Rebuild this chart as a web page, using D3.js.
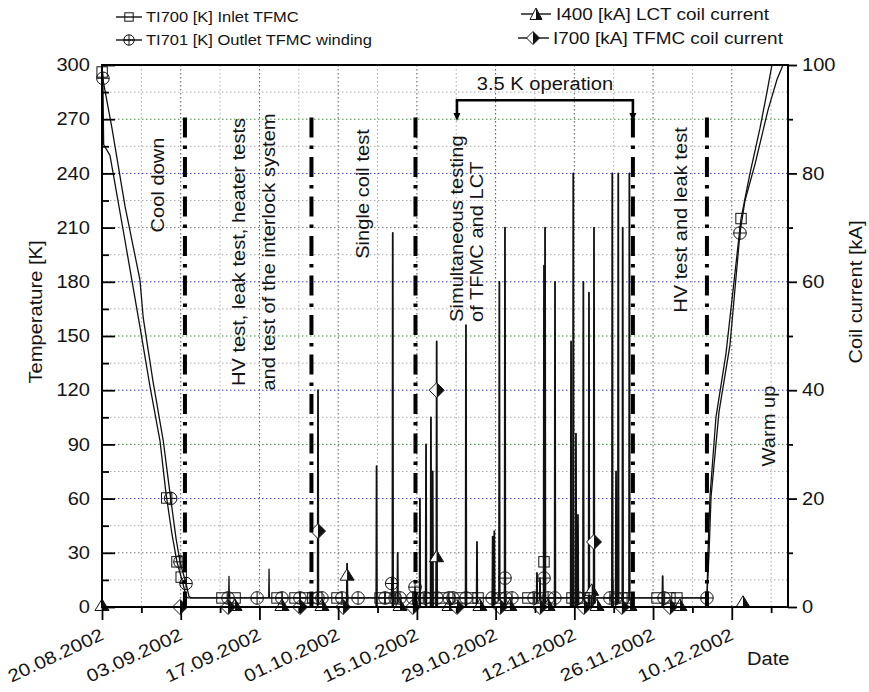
<!DOCTYPE html>
<html><head><meta charset="utf-8">
<script src="https://cdn.jsdelivr.net/npm/d3@7"></script>
<style>body{margin:0;background:#fff} svg{display:block}</style>
</head><body>
<svg id="chart" width="869" height="692"></svg>
<script>
// ---------------- DATA ----------------
const xTickLabels = ["20.08.2002","03.09.2002","17.09.2002","01.10.2002","15.10.2002","29.10.2002","12.11.2002","26.11.2002","10.12.2002"];
const xMinorTicks = ["27.08.2002","10.09.2002","24.09.2002","08.10.2002","22.10.2002","05.11.2002","19.11.2002","03.12.2002","17.12.2002"];
const xDomain = ["20.08.2002 00:00","20.12.2002 00:00"];
const tempTicks = [0,30,60,90,120,150,180,210,240,270,300];
const tempMinor = [15,45,75,105,135,165,195,225,255,285];
const currentTicks = [0,20,40,60,80,100];
const currentMinor = [10,30,50,70,90];

// TI700 inlet temperature [K] (cool down + warm up)
const ti700Dates = ["20.08.2002 00:00","20.08.2002 04:00","20.08.2002 07:00","21.08.2002 10:00","24.08.2002 02:00","26.08.2002 18:00","28.08.2002 13:00","30.08.2002 07:30","31.08.2002 09:00","01.09.2002 11:00","02.09.2002 08:00","03.09.2002 09:30","03.09.2002 22:30","04.09.2002 07:00","05.12.2002 14:00","05.12.2002 18:30","06.12.2002 03:00","07.12.2002 04:30","08.12.2002 23:00","10.12.2002 13:45","11.12.2002 15:30","13.12.2002 05:45","15.12.2002 00:30","16.12.2002 06:15","17.12.2002 03:30"];
const ti700Values = [297,290,256,250,203,155,122,92,63,40,25,13,6,5,5,30,61,105,140,185,215,240,265,285,300];
const ti700SpikeDates = ["11.09.2002 14:00","06.11.2002 14:30"];
const ti700SpikeValues = [17,25];

// TI701 outlet temperature [K]
const ti701Dates = ["20.08.2002 00:00","20.08.2002 05:30","21.08.2002 18:30","24.08.2002 02:00","26.08.2002 18:00","27.08.2002 08:00","29.08.2002 01:30","30.08.2002 21:30","01.09.2002 02:00","02.09.2002 04:00","02.09.2002 21:00","03.09.2002 22:30","04.09.2002 11:00","04.09.2002 19:00","05.12.2002 14:00","05.12.2002 23:00","06.12.2002 07:30","07.12.2002 17:30","09.12.2002 16:15","11.12.2002 11:00","12.12.2002 08:30","14.12.2002 03:00","16.12.2002 10:30","18.12.2002 01:00","19.12.2002 02:40"];
const ti701Values = [297,291,265,222,181,160,125,92,63,38,25,13,6,5,5,30,61,108,145,207,225,245,275,292,300];
const ti701SpikeDates = ["18.09.2002 17:00","10.10.2002 12:30","14.10.2002 16:00","30.10.2002 16:00","06.11.2002 14:30"];
const ti701SpikeValues = [21,13,11,16,16];

// I400 LCT coil current [kA]
const i400SpikeDates = ["02.10.2002 14:00","16.10.2002 15:00","17.10.2002 12:00","18.10.2002 12:00","23.10.2002 17:30","29.10.2002 16:00","06.11.2002 14:30","08.11.2002 13:30","11.11.2002 19:30","12.11.2002 15:30","13.11.2002 14:30","14.11.2002 14:30","15.11.2002 02:00","18.11.2002 18:00","19.11.2002 10:00","19.11.2002 19:30","21.11.2002 19:00"];
const i400SpikeValues = [6,30,35,10,52,60,63,60,80,17,60,58,3,80,25,80,80];

// I700 TFMC coil current [kA]
const i700SpikeDates = ["27.09.2002 10:00","02.10.2002 14:00","07.10.2002 20:00","10.10.2002 17:00","11.10.2002 14:00","15.10.2002 13:00","17.10.2002 19:30","18.10.2002 12:30","25.10.2002 16:30","28.10.2002 11:30","28.10.2002 18:30","30.10.2002 16:00","05.11.2002 08:30","05.11.2002 21:30","06.11.2002 19:00","11.11.2002 10:00","12.11.2002 07:00","15.11.2002 12:00","18.11.2002 19:30","20.11.2002 14:30","27.11.2002 17:00"];
const i700SpikeValues = [40,8,26,69,10,20,25,49,12,13,14,70,6.3,5.3,70,49,32,70,5,70,5.7];

// marker positions
const ti700MarkerDates = ["20.08.2002 00:30","31.08.2002 12:00","02.09.2002 08:00","03.09.2002 02:00","10.09.2002 08:00","12.09.2002 16:00","20.09.2002 03:00","23.09.2002 08:00","25.09.2002 02:00","26.09.2002 12:00","30.09.2002 19:00","08.10.2002 11:00","10.10.2002 05:00","15.10.2002 05:00","17.10.2002 08:00","19.10.2002 15:00","22.10.2002 16:00","24.10.2002 19:00","25.10.2002 21:00","29.10.2002 19:00","03.11.2002 18:00","05.11.2002 21:00","06.11.2002 14:30","11.11.2002 14:00","13.11.2002 17:00","14.11.2002 19:00","20.11.2002 11:00","21.11.2002 13:00","26.11.2002 17:00","29.11.2002 00:00","30.11.2002 06:00","11.12.2002 15:30"];
const ti701MarkerDates = ["20.08.2002 04:00","01.09.2002 05:00","02.09.2002 21:00","03.09.2002 22:30","11.09.2002 10:00","16.09.2002 14:00","21.09.2002 00:00","24.09.2002 05:00","27.09.2002 10:00","28.09.2002 03:00","01.10.2002 16:00","04.10.2002 13:00","09.10.2002 08:00","10.10.2002 12:30","11.10.2002 03:00","12.10.2002 00:00","14.10.2002 07:00","14.10.2002 16:00","16.10.2002 11:00","18.10.2002 14:00","20.10.2002 17:00","21.10.2002 10:00","23.10.2002 18:00","28.10.2002 09:00","30.10.2002 16:00","30.10.2002 20:00","31.10.2002 22:00","04.11.2002 20:00","06.11.2002 14:30","07.11.2002 08:00","08.11.2002 13:00","12.11.2002 16:00","18.11.2002 08:00","19.11.2002 10:00","27.11.2002 23:00","05.12.2002 14:00","11.12.2002 11:00"];
const i400MarkerDates = ["20.08.2002 00:00","12.09.2002 16:00","21.09.2002 00:00","28.09.2002 03:00","02.10.2002 14:00","12.10.2002 00:00","18.10.2002 12:00","20.10.2002 17:00","26.10.2002 05:00","31.10.2002 13:00","07.11.2002 08:00","15.11.2002 02:00","16.11.2002 01:00","21.11.2002 22:00","30.11.2002 19:00","12.12.2002 00:00"];
const i400MarkerValues = [0,0,0,0,5.6,0,9,0,0,0,0,2.8,0,0,0,0.6];
const i700MarkerDates = ["02.09.2002 21:00","11.09.2002 10:00","24.09.2002 05:00","27.09.2002 10:00","01.10.2002 21:00","14.10.2002 07:00","18.10.2002 12:30","22.10.2002 03:00","29.10.2002 19:00","05.11.2002 21:00","13.11.2002 17:00","15.11.2002 12:00","20.11.2002 11:00","29.11.2002 00:00"];
const i700MarkerValues = [0,0,0,14,0,0,40,0,0,0,0,12,0,0];

// annotations
const phaseLineDates = ["03.09.2002 18:00","26.09.2002 06:00","14.10.2002 18:00","22.11.2002 10:00","05.12.2002 14:00"];
const operationStart = "22.10.2002 03:00";

// ---------------- CHART ----------------
const parse = d3.timeParse("%d.%m.%Y %H:%M");
const parseDay = d3.timeParse("%d.%m.%Y");
const L = 102, R = 788, T = 65, B = 607;
const svg = d3.select("#chart");
const x = d3.scaleTime().domain(xDomain.map(parse)).range([L, R]);
const yT = d3.scaleLinear().domain([0, 300]).range([B, T]);
const yC = d3.scaleLinear().domain([0, 100]).range([B, T]);
const FONT = "Liberation Sans, Arial, Helvetica, sans-serif";

function txt(sel, px, py, s, o = {}) {
  const t = sel.append("text")
    .attr("transform", `translate(${px},${py}) rotate(${o.rot || 0}) scale(${o.sx || 1.13},1)`)
    .attr("text-anchor", o.anchor || "start")
    .attr("font-family", FONT).attr("font-size", o.size || 17.8)
    .attr("fill", "#141414").text(s);
  if (o.dy) t.attr("dy", o.dy);
  return t;
}

// grid
const grid = svg.append("g");
const allWeeks = xTickLabels.map(d => ({d: parseDay(d), major: true}))
  .concat(xMinorTicks.map(d => ({d: parseDay(d), major: false})));
allWeeks.forEach(w => {
  const px = x(w.d);
  if (px <= L + 1 || px >= R - 1) return;
  grid.append("line").attr("x1", px).attr("x2", px).attr("y1", T).attr("y2", B)
    .attr("stroke", w.major ? "#555" : "#aaa").attr("stroke-width", 1)
    .attr("stroke-dasharray", "1.5,2.5");
});
const greenK = [90, 150, 270], blueK = [60, 120, 180, 240], darkK = [30, 210];
tempTicks.concat(tempMinor).forEach(v => {
  if (v === 0 || v === 300) return;
  let col = "#aaa";
  if (greenK.includes(v)) col = "#3c8c3c";
  else if (blueK.includes(v)) col = "#3a3ac8";
  else if (darkK.includes(v)) col = "#777";
  grid.append("line").attr("x1", L).attr("x2", R).attr("y1", yT(v)).attr("y2", yT(v))
    .attr("stroke", col).attr("stroke-width", 1).attr("stroke-dasharray", "1.5,2.5");
});

// build series
const HW = 1.5 * 3600 * 1000;
function buildSeries(dates, values, spikeDates, spikeVals, base) {
  const pts = dates.map((d, i) => ({t: parse(d), v: values[i]}));
  spikeDates.forEach((d, i) => {
    const t = parse(d);
    pts.push({t: new Date(+t - HW), v: base}, {t: t, v: spikeVals[i]}, {t: new Date(+t + HW), v: base});
  });
  pts.sort((a, b) => a.t - b.t);
  return pts;
}
const ti700 = buildSeries(ti700Dates, ti700Values, ti700SpikeDates, ti700SpikeValues, 5);
const ti701 = buildSeries(ti701Dates, ti701Values, ti701SpikeDates, ti701SpikeValues, 5);
const i400 = buildSeries(xDomain, [0, 0], i400SpikeDates, i400SpikeValues, 0);
const i700 = buildSeries(xDomain, [0, 0], i700SpikeDates, i700SpikeValues, 0);

function valueAt(series, t) {
  const i = d3.bisector(p => p.t).left(series, t);
  if (i <= 0) return series[0].v;
  if (i >= series.length) return series[series.length - 1].v;
  const a = series[i - 1], b = series[i];
  if (+b.t === +a.t) return b.v;
  return a.v + (b.v - a.v) * (t - a.t) / (b.t - a.t);
}

svg.append("defs").append("clipPath").attr("id", "clip")
  .append("rect").attr("x", L).attr("y", T).attr("width", R - L).attr("height", B - T);
const plot = svg.append("g").attr("clip-path", "url(#clip)");

const lineT = d3.line().x(p => x(p.t)).y(p => yT(p.v));
const lineC = d3.line().x(p => x(p.t)).y(p => yC(p.v));
[[i400, lineC, 1.8], [i700, lineC, 1.8], [ti700, lineT, 1.3], [ti701, lineT, 1.3]].forEach(([s, fn, w]) => {
  plot.append("path").datum(s).attr("d", fn).attr("fill", "none")
    .attr("stroke", "#111").attr("stroke-width", w).attr("stroke-linejoin", "round");
});

// marker shapes
function square(g, cx, cy, s = 5.2) {
  g.append("rect").attr("x", cx - s).attr("y", cy - s).attr("width", 2 * s).attr("height", 2 * s)
    .attr("fill", "none").attr("stroke", "#111").attr("stroke-width", 1);
}
function circlePlus(g, cx, cy, r = 6.3) {
  g.append("circle").attr("cx", cx).attr("cy", cy).attr("r", r).attr("fill", "none")
    .attr("stroke", "#111").attr("stroke-width", 1);
  g.append("path").attr("d", `M${cx - r},${cy}H${cx + r}M${cx},${cy - r}V${cy + r}`)
    .attr("stroke", "#111").attr("stroke-width", 1);
}
function halfTriangle(g, cx, cy, s = 7) {
  const top = cy - 8, bot = cy + 3.5;
  g.append("path").attr("d", `M${cx},${top}L${cx + s},${bot}L${cx - s},${bot}Z`)
    .attr("fill", "#fff").attr("stroke", "#111").attr("stroke-width", 1);
  g.append("path").attr("d", `M${cx},${top}L${cx + s},${bot}L${cx},${bot}Z`).attr("fill", "#111");
}
function halfDiamond(g, cx, cy, s = 7.5) {
  g.append("path").attr("d", `M${cx},${cy - s}L${cx + s},${cy}L${cx},${cy + s}L${cx - s},${cy}Z`)
    .attr("fill", "#fff").attr("stroke", "#111").attr("stroke-width", 1);
  g.append("path").attr("d", `M${cx},${cy - s}L${cx + s},${cy}L${cx},${cy + s}Z`).attr("fill", "#111");
}

const mk = svg.append("g");
i400MarkerDates.forEach((d, i) => halfTriangle(mk, x(parse(d)), yC(i400MarkerValues[i])));
i700MarkerDates.forEach((d, i) => halfDiamond(mk, x(parse(d)), yC(i700MarkerValues[i])));
ti700MarkerDates.forEach(d => { const t = parse(d); square(mk, x(t), yT(valueAt(ti700, t))); });
ti701MarkerDates.forEach(d => { const t = parse(d); circlePlus(mk, x(t), yT(valueAt(ti701, t))); });

// phase separation lines
const ann = svg.append("g");
phaseLineDates.forEach(d => {
  const px = x(parse(d));
  ann.append("line").attr("x1", px).attr("x2", px).attr("y1", yT(271)).attr("y2", B)
    .attr("stroke", "#000").attr("stroke-width", 4).attr("stroke-dasharray", "20,8,3.5,8");
});
// 3.5 K operation bracket
const bx1 = x(parse(operationStart)), bx2 = x(parse(phaseLineDates[3]));
const by = yT(280.5), tipY = yT(269);
ann.append("path").attr("d", `M${bx1},${tipY - 7}V${by}H${bx2}V${tipY - 7}`)
  .attr("fill", "none").attr("stroke", "#000").attr("stroke-width", 2.6);
[bx1, bx2].forEach(bx => ann.append("path")
  .attr("d", `M${bx - 3.5},${tipY - 8}L${bx + 3.5},${tipY - 8}L${bx},${tipY}Z`).attr("fill", "#000"));
txt(ann, (bx1 + bx2) / 2, 90, "3.5 K operation", {anchor: "middle"});

// phase labels
txt(ann, 164, 185, "Cool down", {rot: -90, anchor: "middle"});
txt(ann, 245, 252, "HV test, leak test, heater tests", {rot: -90, anchor: "middle"});
txt(ann, 275, 252, "and test of the interlock system", {rot: -90, anchor: "middle"});
txt(ann, 369, 194, "Single coil test", {rot: -90, anchor: "middle"});
txt(ann, 463, 322, "Simultaneous testing", {rot: -90, anchor: "start"});
txt(ann, 483, 322, "of TFMC and LCT", {rot: -90, anchor: "start"});
txt(ann, 687, 220, "HV test and leak test", {rot: -90, anchor: "middle"});
txt(ann, 775, 426, "Warm up", {rot: -90, anchor: "middle"});

// axes
const ax = svg.append("g");
const styleAxis = g => { g.select(".domain").remove(); g.selectAll("line").attr("stroke", "#000").attr("stroke-width", 1.8); };
ax.append("g").attr("transform", `translate(${L},0)`)
  .call(d3.axisLeft(yT).tickValues(tempTicks).tickSize(-13).tickFormat("")).call(styleAxis);
ax.append("g").attr("transform", `translate(${L},0)`)
  .call(d3.axisLeft(yT).tickValues(tempMinor).tickSize(-7).tickFormat("")).call(styleAxis);
ax.append("g").attr("transform", `translate(${R},0)`)
  .call(d3.axisRight(yC).tickValues(currentTicks).tickSize(9).tickFormat("")).call(styleAxis);
ax.append("g").attr("transform", `translate(${R},0)`)
  .call(d3.axisRight(yC).tickValues(currentMinor).tickSize(5).tickFormat("")).call(styleAxis);
ax.append("g").attr("transform", `translate(0,${B})`)
  .call(d3.axisBottom(x).tickValues(xTickLabels.map(parseDay)).tickSize(13).tickFormat("")).call(styleAxis);
ax.append("g").attr("transform", `translate(0,${B})`)
  .call(d3.axisBottom(x).tickValues(xMinorTicks.map(parseDay)).tickSize(6).tickFormat("")).call(styleAxis);
ax.append("rect").attr("x", L).attr("y", T).attr("width", R - L).attr("height", B - T)
  .attr("fill", "none").attr("stroke", "#000").attr("stroke-width", 2);

// tick labels
tempTicks.forEach(v => txt(ax, L - 12, yT(v), String(v), {anchor: "end", dy: "0.35em"}));
currentTicks.forEach(v => txt(ax, R + 14, yC(v), String(v), {anchor: "start", dy: "0.35em"}));
xTickLabels.forEach(s => txt(ax, x(parseDay(s)) + 3, 639, s, {anchor: "end", rot: -25, sx: 1.16}));

// axis titles
txt(ax, 42, 312, "Temperature [K]", {rot: -90, anchor: "middle"});
txt(ax, 862, 292, "Coil current [kA]", {rot: -90, anchor: "middle"});
txt(ax, 747, 665, "Date", {});

// legend
const lg = svg.append("g");
function legendLine(x1, x2, yy) {
  lg.append("line").attr("x1", x1).attr("x2", x2).attr("y1", yy).attr("y2", yy)
    .attr("stroke", "#111").attr("stroke-width", 1.4);
}
legendLine(116, 142, 17); square(lg, 129, 17, 4.2);
txt(lg, 146, 17, "TI700 [K] Inlet TFMC", {size: 15, sx: 1.1, dy: "0.36em"});
legendLine(116, 142, 40); circlePlus(lg, 129, 40, 5.2);
txt(lg, 146, 40, "TI701 [K] Outlet TFMC winding", {size: 15, sx: 1.1, dy: "0.36em"});
legendLine(521, 551, 14); halfTriangle(lg, 536, 16, 6);
txt(lg, 556, 14, "I400 [kA] LCT coil current", {size: 17.2, sx: 1.1, dy: "0.36em"});
legendLine(518, 549, 38); halfDiamond(lg, 533, 38, 6.5);
txt(lg, 553, 38, "I700 [kA] TFMC coil current", {size: 17.2, sx: 1.1, dy: "0.36em"});
</script>
</body></html>
